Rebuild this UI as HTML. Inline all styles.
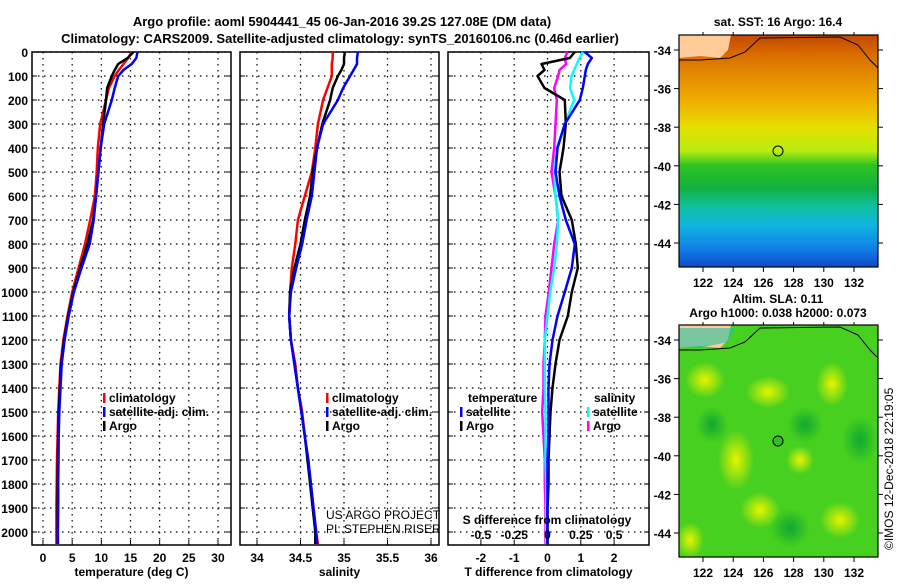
<!DOCTYPE html>
<html><head><meta charset="utf-8"><style>
body{margin:0;background:#fff;width:900px;height:580px;overflow:hidden}
svg{font-family:"Liberation Sans",sans-serif;font-weight:bold}
</style></head><body>
<svg id="c" width="900" height="580" xmlns="http://www.w3.org/2000/svg">
<defs>
<linearGradient id="sst" x1="0" y1="0" x2="0" y2="1">
<stop offset="0" stop-color="#c24800"/><stop offset="0.08" stop-color="#d86a00"/>
<stop offset="0.2" stop-color="#e89400"/><stop offset="0.3" stop-color="#f0b400"/>
<stop offset="0.4" stop-color="#e4e000"/><stop offset="0.5" stop-color="#b8ec10"/>
<stop offset="0.56" stop-color="#30c420"/><stop offset="0.66" stop-color="#10b040"/>
<stop offset="0.74" stop-color="#10c0a0"/><stop offset="0.82" stop-color="#10b4e0"/>
<stop offset="0.92" stop-color="#1080e8"/><stop offset="1" stop-color="#1048c8"/>
</linearGradient>
<radialGradient id="yb"><stop offset="0" stop-color="#e8f400"/><stop offset="1" stop-color="#e8f400" stop-opacity="0"/></radialGradient>
<radialGradient id="gb"><stop offset="0" stop-color="#10a830"/><stop offset="1" stop-color="#10a830" stop-opacity="0"/></radialGradient>
</defs>
<g font-size="13" text-anchor="middle">
<text x="342" y="26">Argo profile: aoml 5904441_45 06-Jan-2016 39.2S 127.08E (DM data)</text>
<text x="340" y="43">Climatology: CARS2009. Satellite-adjusted climatology: synTS_20160106.nc (0.46d earlier)</text>
</g>
<g id="plots"></g>
<g>
<text x="778" y="26" font-size="12" text-anchor="middle">sat. SST: 16 Argo: 16.4</text>
<rect x="679" y="35" width="199" height="232" fill="url(#sst)"/>
<path d="M679,35 L731,35 L728,50 L720,58 L700,56 L679,58 Z" fill="#ffcc99"/>
<path d="M679,60 L700,60 L730,58 L745,52 L760,38 L840,37 L858,45 L870,60 L878,68" fill="none" stroke="#000" stroke-width="1"/>
<circle cx="778" cy="151" r="5" fill="none" stroke="#000"/>
</g>
<g>
<text x="778" y="303" font-size="12" text-anchor="middle">Altim. SLA: 0.11</text>
<text x="778" y="317" font-size="12" text-anchor="middle">Argo h1000: 0.038 h2000: 0.073</text>
<rect x="679" y="325" width="199" height="232" fill="#48d020"/>
<ellipse cx="768" cy="392" rx="22" ry="16" fill="url(#yb)"/>
<ellipse cx="832" cy="384" rx="16" ry="22" fill="url(#yb)"/>
<ellipse cx="736" cy="460" rx="18" ry="30" fill="url(#yb)"/>
<ellipse cx="705" cy="380" rx="20" ry="18" fill="url(#yb)"/>
<ellipse cx="760" cy="510" rx="20" ry="18" fill="url(#yb)"/>
<ellipse cx="840" cy="520" rx="20" ry="18" fill="url(#yb)"/>
<ellipse cx="690" cy="540" rx="14" ry="18" fill="url(#yb)"/>
<ellipse cx="800" cy="460" rx="14" ry="14" fill="url(#yb)"/>
<ellipse cx="712" cy="425" rx="16" ry="18" fill="url(#gb)"/>
<ellipse cx="805" cy="425" rx="18" ry="18" fill="url(#gb)"/>
<ellipse cx="790" cy="528" rx="20" ry="20" fill="url(#gb)"/>
<ellipse cx="860" cy="440" rx="18" ry="24" fill="url(#gb)"/>
<path d="M679,325 L731,325 L728,340 L720,348 L700,346 L679,348 Z" fill="#ffcc99"/>
<path d="M679,348 L700,348 L728,342 L735,328 L679,328Z" fill="#20c0a0" opacity="0.6"/>
<path d="M679,350 L700,350 L730,348 L745,342 L760,328 L840,327 L858,335 L870,350 L878,358" fill="none" stroke="#000" stroke-width="1"/>
<circle cx="778" cy="441" r="5" fill="#30c020" stroke="#000"/>
</g>
<text x="893" y="550" font-size="12" font-weight="normal" transform="rotate(-90 893 550)">©IMOS 12-Dec-2018 22:19:05</text>
</svg>
<script>
const depths=[0,25,50,75,100,150,200,300,400,500,600,700,800,900,1000,1100,1200,1300,1400,1500,1600,1700,1800,1900,2000,2050];
const tempClim=[15.2,14.6,13.8,13.0,12.3,11.3,10.8,9.8,9.4,9.2,8.9,8.1,7.2,6.1,5.0,4.2,3.5,3.0,2.8,2.6,2.5,2.4,2.35,2.3,2.3,2.3];
const tempSat=[16.2,16.0,15.2,13.8,12.9,12.3,11.8,10.5,9.9,9.5,9.1,8.7,8.0,6.6,5.3,4.4,3.7,3.2,3.0,2.8,2.7,2.65,2.6,2.6,2.55,2.55];
const tempArgo=[15.5,14.5,12.9,12.3,11.8,11.0,10.8,10.3,9.9,9.5,9.1,8.6,7.6,6.4,5.2,4.3,3.6,3.1,2.9,2.7,2.6,2.55,2.5,2.5,2.5,2.5];
const salClim=[34.87,34.87,34.86,34.86,34.86,34.81,34.76,34.70,34.67,34.63,34.55,34.47,34.44,34.40,34.38,34.37,34.39,34.44,34.47,34.52,34.55,34.59,34.62,34.65,34.68,34.70];
const salSat=[35.16,35.15,35.15,35.11,35.07,34.99,34.93,34.76,34.69,34.66,34.63,34.57,34.52,34.45,34.39,34.37,34.39,34.43,34.47,34.51,34.55,34.59,34.62,34.65,34.68,34.69];
const salArgo=[35.01,35.00,35.00,34.97,34.93,34.87,34.84,34.75,34.69,34.64,34.61,34.55,34.50,34.43,34.38,34.37,34.39,34.43,34.47,34.51,34.55,34.58,34.61,34.64,34.67,34.67];
const tDiffSat=[1.12,1.33,1.21,1.15,1.12,1.06,0.97,0.52,0.3,0.24,0.36,0.55,0.82,0.73,0.52,0.3,0.15,0.06,0.03,0.03,0.03,0,0,0,0,0];
const tDiffArgo=[0.82,0.67,-0.18,-0.09,-0.3,-0.09,0.52,0.55,0.48,0.36,0.42,0.73,0.85,0.91,0.73,0.61,0.36,0.24,0.15,0.09,0.06,0.03,0.03,0,0,0];
const sDiffSat=[0.265,0.24,0.22,0.2,0.18,0.17,0.2,0.13,0.07,0.05,0.06,0.08,0.07,0.05,0.02,0,-0.02,-0.02,-0.02,-0.015,-0.015,-0.015,-0.01,-0.01,-0.01,-0.01];
const sDiffArgo=[0.15,0.13,0.14,0.09,0.08,0.05,0.07,0.06,0.05,0.03,0.06,0.08,0.05,0.03,0.01,-0.015,-0.02,-0.03,-0.03,-0.04,-0.03,-0.02,-0.02,-0.015,-0.015,-0.015];
const depthTicks=[0,100,200,300,400,500,600,700,800,900,1000,1100,1200,1300,1400,1500,1600,1700,1800,1900,2000];
const tempTicks=[0,5,10,15,20,25,30];
const salTicks=[34,34.5,35,35.5,36];
const tDiffTicks=[-2,-1,0,1,2];
const sDiffTicks=[-0.5,-0.25,0,0.25,0.5];
const sDiffLabels=["-0.5","-0.25","0","0.25","0.5"];

const NS='http://www.w3.org/2000/svg';
const root=document.getElementById('plots');
const top0=52, bot=545;
const yD=d=>top0+d*0.24;
function mk(tag,attrs,parent){const e=document.createElementNS(NS,tag);for(const k in attrs)e.setAttribute(k,attrs[k]);(parent||root).appendChild(e);return e;}
function txt(x,y,s,anchor,size,parent,weight){const t=mk('text',{x:x,y:y,'font-size':size||12,'text-anchor':anchor||'middle'},parent);if(weight)t.setAttribute('font-weight',weight);t.textContent=s;return t;}

const panels=[
 {name:'temperature-panel',x0:32,x1:231,xs:v=>43+v*5.833,ticks:tempTicks,labels:tempTicks.map(String),xlabel:'temperature (deg C)'},
 {name:'salinity-panel',x0:240,x1:439,xs:v=>257+(v-34)*87,ticks:salTicks,labels:salTicks.map(String),xlabel:'salinity'},
 {name:'difference-panel',x0:448,x1:649,xs:v=>547.5+v*33.3,ticks:tDiffTicks,labels:tDiffTicks.map(String),xlabel:'T difference from climatology'}
];
panels.forEach((p,i)=>{
 const g=mk('g',{});
 
 
 p.ticks.forEach(t=>{const x=p.xs(t);mk('line',{x1:x,x2:x,y1:top0,y2:bot,stroke:'#000','stroke-dasharray':'1.5 4.5','stroke-width':1.2},g);
   mk('line',{x1:x,x2:x,y1:bot,y2:bot-5,stroke:'#000'},g);});
 depthTicks.forEach(d=>{const y=yD(d);mk('line',{x1:p.x0,x2:p.x1,y1:y,y2:y,stroke:'#000','stroke-dasharray':'1.5 4.5','stroke-width':1.2},g);
   mk('line',{x1:p.x0,x2:p.x0+5,y1:y,y2:y,stroke:'#000'},g);mk('line',{x1:p.x1,x2:p.x1-5,y1:y,y2:y,stroke:'#000'},g);});
 mk('rect',{x:p.x0,y:top0,width:p.x1-p.x0,height:bot-top0,fill:'none',stroke:'#000','stroke-width':1.5},g);
 p.ticks.forEach((t,k)=>txt(p.xs(t),562,p.labels[k],'middle',12,g));
 txt((p.x0+p.x1)/2,576,p.xlabel,'middle',12,g);
});
const yl=mk('g',{});


depthTicks.forEach(d=>txt(28,yD(d)+5,String(d),'end',12,yl));

function series(name,vals,xs,color){
 const pts=depths.map((d,k)=>xs(vals[k]).toFixed(1)+','+yD(d).toFixed(1)).join(' ');
 const l=mk('polyline',{points:pts,fill:'none',stroke:color,'stroke-width':2.5,'stroke-linejoin':'round'});
 
 
}
const P=panels;
series('temp-climatology',tempClim,P[0].xs,'#f00');
series('temp-argo',tempArgo,P[0].xs,'#000');
series('temp-satellite',tempSat,P[0].xs,'#00f');
series('sal-climatology',salClim,P[1].xs,'#f00');
series('sal-argo',salArgo,P[1].xs,'#000');
series('sal-satellite',salSat,P[1].xs,'#00f');
const sx=v=>547.5+v*133.2;
series('sdiff-argo',sDiffArgo,sx,'#f0f');
series('sdiff-satellite',sDiffSat,sx,'#0ff');
series('tdiff-argo',tDiffArgo,P[2].xs,'#000');
series('tdiff-satellite',tDiffSat,P[2].xs,'#00f');

const sg=mk('g',{});


txt(547,524,'S difference from climatology','middle',12,sg);
sDiffTicks.forEach((t,k)=>txt(sx(t),539,sDiffLabels[k],'middle',12,sg));

function legend(x,y,color,label,name){
 const g=mk('g',{});
 
 
 mk('rect',{x:x,y:y-9,width:2.5,height:10,fill:color},g);
 txt(x+6,y,label,'start',12,g);
}
legend(103,402,'#f00','climatology','legend-climatology');
legend(103,416,'#00f','satellite-adj. clim.','legend-satellite-adj');
legend(103,430,'#000','Argo','legend-argo');
legend(326,402,'#f00','climatology','legend2-climatology');
legend(326,416,'#00f','satellite-adj. clim.','legend2-satellite-adj');
legend(326,430,'#000','Argo','legend2-argo');
txt(468,402,'temperature','start',12);
txt(594,402,'salinity','start',12);
legend(460,416,'#00f','satellite','legend-tdiff-satellite');
legend(460,430,'#000','Argo','legend-tdiff-argo');
legend(587,416,'#0ff','satellite','legend-sdiff-satellite');
legend(587,430,'#f0f','Argo','legend-sdiff-argo');
const cr=mk('g',{});


txt(326,519,'US ARGO PROJECT','start',12,cr,'normal');
txt(326,533,'PI: STEPHEN RISER','start',12,cr,'normal');

function mapAxes(y0,name){
 const g=mk('g',{},document.getElementById('c'));
 
 
 mk('rect',{x:679,y:y0,width:199,height:232,fill:'none',stroke:'#000','stroke-width':1.2},g);
 [-34,-36,-38,-40,-42,-44].forEach(la=>{const y=y0+15+(-34-la)*19.3;
  mk('line',{x1:674,x2:679,y1:y,y2:y,stroke:'#000'},g);mk('line',{x1:878,x2:883,y1:y,y2:y,stroke:'#000'},g);
  txt(671,y+5,String(la),'end',12,g);});
 [122,124,126,128,130,132].forEach(lo=>{const x=703+(lo-122)*15.1;
  mk('line',{x1:x,x2:x,y1:y0+232,y2:y0+237,stroke:'#000'},g);mk('line',{x1:x,x2:x,y1:y0,y2:y0-3,stroke:'#000'},g);
  txt(x,y0+252,String(lo),'middle',12,g);});
}
mapAxes(35,'sst-map-axes');
mapAxes(325,'sla-map-axes');
</script>
</body></html>
